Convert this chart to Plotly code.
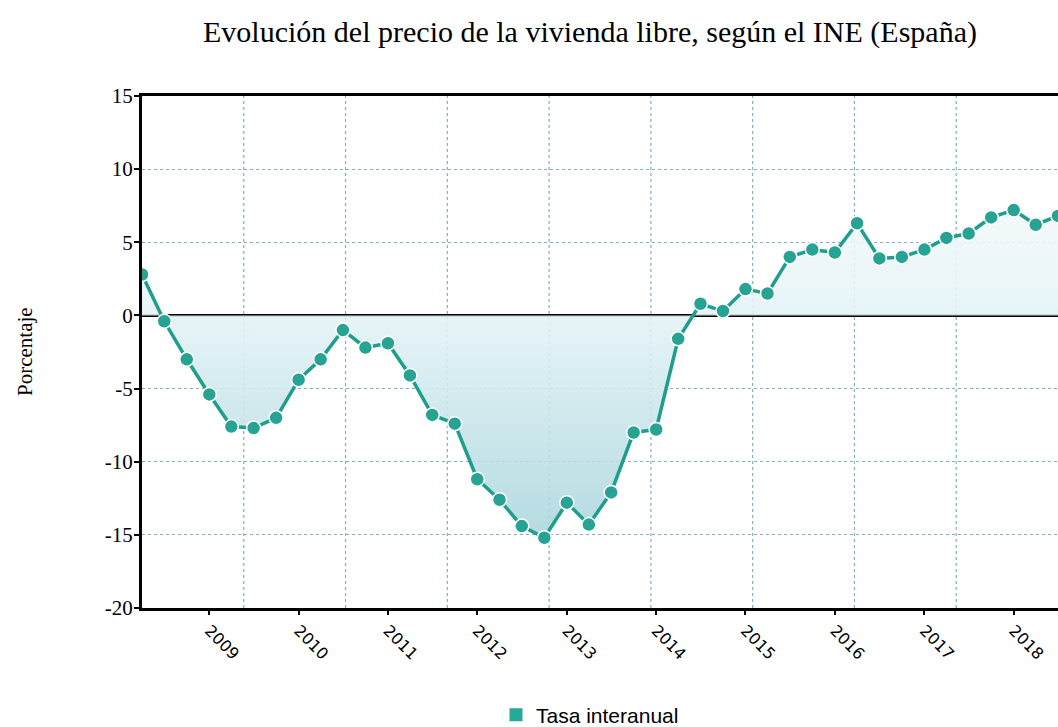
import plotly.graph_objects as go
import pandas as pd

# Quarterly dates (start of quarter), 2008 Q2 to 2018 Q3
quarters = pd.date_range("2008-04-01", periods=42, freq="QS").strftime("%Y-%m-%d").tolist()

tasa_interanual = [
    2.8, -0.4, -3.0,
    -5.4, -7.6, -7.7, -7.0,
    -4.4, -3.0, -1.0, -2.2,
    -1.9, -4.1, -6.8, -7.4,
    -11.2, -12.6, -14.4, -15.2,
    -12.8, -14.3, -12.1, -8.0,
    -7.8, -1.6, 0.8, 0.3,
    1.8, 1.5, 4.0, 4.5,
    4.3, 6.3, 3.9, 4.0,
    4.5, 5.3, 5.6, 6.7,
    7.2, 6.2, 6.8,
]

year_ticks = ["2009-01-01", "2010-01-01", "2011-01-01", "2012-01-01", "2013-01-01",
              "2014-01-01", "2015-01-01", "2016-01-01", "2017-01-01", "2018-01-01"]
year_labels = ["2009", "2010", "2011", "2012", "2013", "2014", "2015", "2016", "2017", "2018"]

y_ticks = [-20, -15, -10, -5, 0, 5, 10, 15]
y_labels = [str(v) for v in y_ticks]

title_text = "Evolución del precio de la vivienda libre, según el INE (España)"
y_title = "Porcentaje"
series_name = "Tasa interanual"

TEAL = "#1f9e8c"
GRID = "#86aebf"

W, H = 1058, 727
ML, MR, MT, MB = 142, 0, 96, 119
PW = W - ML - MR
PH = H - MT - MB

fig = go.Figure()

fig.add_trace(go.Scatter(
    x=quarters, y=tasa_interanual,
    mode="lines+markers",
    fill="tozeroy",
    fillgradient=dict(
        type="vertical",
        start=-17, stop=9,
        colorscale=[[0, "rgba(160,210,218,0.85)"],
                    [0.65, "rgba(228,243,246,0.9)"],
                    [1, "rgba(245,250,251,0.9)"]],
    ),
    line=dict(color=TEAL, width=3.5),
    marker=dict(size=14, color="#27a393", line=dict(color="white", width=1.5)),
    showlegend=False,
    name=series_name,
))

# legend entry (square swatch)
fig.add_trace(go.Scatter(
    x=[None], y=[None], mode="markers",
    marker=dict(symbol="square", size=13, color="#27a99a"),
    name=series_name, showlegend=True,
))

# vertical dotted grid: 9 equal divisions of the plot width
shapes = []
for k in range(1, 9):
    shapes.append(dict(type="line", xref="paper", yref="paper",
                       x0=k / 9, x1=k / 9, y0=0, y1=1,
                       line=dict(color=GRID, width=1.2, dash="dot"),
                       layer="below"))

fig.update_layout(
    width=W, height=H,
    paper_bgcolor="white", plot_bgcolor="white",
    margin=dict(l=ML, r=MR, t=MT, b=MB, autoexpand=False),
    title=dict(text=title_text, x=590 / W, xanchor="center", xref="container",
               y=1 - 31 / H, yanchor="middle", yref="container",
               font=dict(family="Liberation Serif", size=30, color="black")),
    shapes=shapes,
    annotations=[dict(text=y_title, textangle=-90, xref="paper", yref="paper",
                      x=(25 - ML) / PW, y=0.5 - (352 - (MT + PH / 2)) / PH,
                      xanchor="center", yanchor="middle", showarrow=False,
                      font=dict(family="Liberation Serif", size=21, color="black"))],
    legend=dict(orientation="h", xref="container", yref="container",
                x=590 / W, xanchor="center", y=1 - 715 / H, yanchor="middle",
                font=dict(family="Liberation Sans", size=21, color="black"),
                itemwidth=30),
    showlegend=True,
)

fig.update_xaxes(
    type="date",
    range=["2008-04-01", "2018-07-01"],
    automargin=False,
    tickmode="array", tickvals=year_ticks, ticktext=year_labels,
    tickangle=45,
    ticks="outside", ticklen=4, tickwidth=2, tickcolor="black",
    tickfont=dict(family="DejaVu Sans", size=16, color="black"),
    showgrid=False,
    showline=True, linecolor="black", linewidth=3, mirror=True,
    zeroline=False,
)

fig.update_yaxes(
    range=[-20, 15],
    automargin=False,
    tickmode="array", tickvals=y_ticks, ticktext=y_labels,
    ticks="outside", ticklen=5, tickwidth=2, tickcolor="black",
    tickfont=dict(family="Liberation Serif", size=21, color="black"),
    ticklabelstandoff=-3,
    showgrid=True, gridcolor=GRID, griddash="dot", gridwidth=1.2,
    showline=True, linecolor="black", linewidth=3, mirror=False,
    zeroline=True, zerolinecolor="black", zerolinewidth=3,
)

fig.write_html(
    "out.html",
    config={"displayModeBar": False},
    post_script="document.body.style.margin='0';document.body.style.overflow='hidden';",
)
